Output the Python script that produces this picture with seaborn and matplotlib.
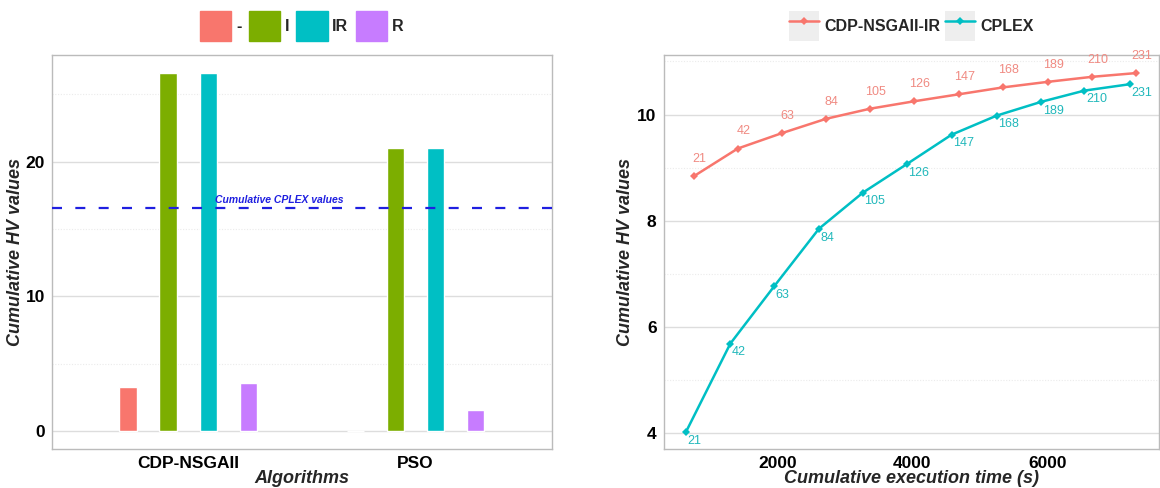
import numpy as np
import pandas as pd
import matplotlib
matplotlib.use("Agg")
import matplotlib.pyplot as plt
import matplotlib.patches as mpatches
from matplotlib.lines import Line2D
from matplotlib.legend_handler import HandlerTuple
import seaborn as sns

# ---- data ----
algorithms = ["CDP-NSGAII", "PSO"]
groups = ["-", "I", "IR", "R"]
bar_values = {
    "CDP-NSGAII": [3.29, 26.55, 26.55, 3.58],
    "PSO": [0.05, 21.04, 21.0, 1.6],
}
cplex_ref = 16.55

iterations = [21, 42, 63, 84, 105, 126, 147, 168, 189, 210, 231]
nsga_time = [760, 1410, 2065, 2721, 3374, 4030, 4685, 5340, 6006, 6668, 7319]
nsga_hv = [8.84, 9.36, 9.65, 9.92, 10.11, 10.25, 10.38, 10.51, 10.615, 10.71, 10.78]
cplex_time = [643, 1300, 1951, 2613, 3265, 3920, 4580, 5250, 5912, 6550, 7221]
cplex_hv = [4.03, 5.69, 6.77, 7.85, 8.53, 9.07, 9.62, 9.98, 10.24, 10.45, 10.57]

bar_colors = ["#F8766D", "#7CAE00", "#00BFC4", "#C77CFF"]
line_colors = {"CDP-NSGAII-IR": "#F8766D", "CPLEX": "#00BFC4"}

sns.set_style("white")
plt.rcParams["font.family"] = ["Liberation Sans", "DejaVu Sans"]

rows = []
for alg in algorithms:
    for g, v in zip(groups, bar_values[alg]):
        rows.append({"alg": alg, "group": g, "value": v})
df_bar = pd.DataFrame(rows)

df_line = pd.concat([
    pd.DataFrame({"time": nsga_time, "hv": nsga_hv, "it": iterations, "algo": "CDP-NSGAII-IR"}),
    pd.DataFrame({"time": cplex_time, "hv": cplex_hv, "it": iterations, "algo": "CPLEX"}),
])

fig = plt.figure(figsize=(11.6, 4.88), dpi=100)
ax1 = fig.add_axes([0.0446, 0.0793, 0.431, 0.808])
ax2 = fig.add_axes([0.572, 0.0793, 0.427, 0.808])


def style_panel(ax):
    for s in ax.spines.values():
        s.set_color("#BBBBBB")
        s.set_linewidth(1.0)
    ax.set_facecolor("white")
    ax.tick_params(axis="both", length=3, color="#999999", width=0.8, labelsize=12.5,
                   pad=2)
    for lab in ax.get_xticklabels() + ax.get_yticklabels():
        lab.set_fontweight("bold")
        lab.set_color("black")


# ---- left: bars ----
sns.barplot(data=df_bar, x="alg", y="value", hue="group", order=algorithms,
            hue_order=groups, palette=bar_colors, width=0.705, gap=0.57,
            saturation=1, ax=ax1, legend=False)
ax1.set_xlim(-0.6, 1.6)
ax1.set_ylim(-1.33, 27.9)
ax1.set_yticks([0, 10, 20])
ax1.set_yticks([5, 15, 25], minor=True)
ax1.grid(axis="y", which="major", color="#DDDDDD", lw=1.0)
ax1.grid(axis="y", which="minor", color="#EBEBEB", lw=0.8, ls=(0, (1, 1.5)))
ax1.set_axisbelow(True)
ax1.tick_params(axis="y", which="minor", length=0)
ax1.axhline(cplex_ref, color="#1F1FE0", lw=1.6, ls=(0, (4.5, 6)), zorder=3)
ax1.text(0.4, cplex_ref + 0.2, "Cumulative CPLEX values", color="#1F1FE0",
         fontsize=7.5, fontweight="bold", fontstyle="italic", ha="center", va="bottom")
ax1.set_xlabel("Algorithms", fontsize=13, fontweight="bold", fontstyle="italic", labelpad=-1)
ax1.set_ylabel("Cumulative HV values", fontsize=13, fontweight="bold", fontstyle="italic",
               labelpad=1)
style_panel(ax1)
handles = [mpatches.Patch(color=c) for c in bar_colors]
ax1.legend(handles, groups, loc="lower center", bbox_to_anchor=(0.5, 1.0), ncol=4,
           frameon=False, handlelength=1.95, handleheight=2.5, handletextpad=0.3,
           columnspacing=0.45, prop={"weight": "bold", "size": 11.5})

# ---- right: lines ----
sns.lineplot(data=df_line, x="time", y="hv", hue="algo", palette=line_colors,
             marker="D", markersize=4, markeredgewidth=0, lw=1.8, sort=False,
             ax=ax2, legend=False)
ax2.set_xlim(309, 7653)
ax2.set_ylim(3.70, 11.12)
ax2.set_xticks([2000, 4000, 6000])
ax2.set_yticks([4, 6, 8, 10])
ax2.set_yticks([5, 7, 9, 11], minor=True)
ax2.grid(axis="y", which="major", color="#DDDDDD", lw=1.0)
ax2.grid(axis="y", which="minor", color="#EBEBEB", lw=0.8, ls=(0, (1, 1.5)))
ax2.set_axisbelow(True)
ax2.tick_params(axis="y", which="minor", length=0)

for t, h, it in zip(nsga_time, nsga_hv, iterations):
    ax2.annotate(str(it), (t, h), xytext=(4, 8), textcoords="offset points",
                 ha="center", va="bottom", fontsize=9, color="#F08A82")
for t, h, it in zip(cplex_time, cplex_hv, iterations):
    ax2.annotate(str(it), (t, h), xytext=(1, -2), textcoords="offset points",
                 ha="left", va="top", fontsize=9, color="#21B8BB")

ax2.set_xlabel("Cumulative execution time (s)", fontsize=13, fontweight="bold",
               fontstyle="italic", labelpad=-1)
ax2.set_ylabel("Cumulative HV values", fontsize=13, fontweight="bold", fontstyle="italic",
               labelpad=2)
style_panel(ax2)
line_handles = [
    (mpatches.Patch(facecolor="#EEEEEE", edgecolor="none"),
     Line2D([], [], color=c, lw=1.8, marker="D", markersize=4, markeredgewidth=0))
    for c in line_colors.values()
]
ax2.legend(line_handles, list(line_colors.keys()), loc="lower center",
           bbox_to_anchor=(0.5, 1.0), ncol=2, frameon=False, handlelength=1.9,
           handleheight=2.5, handletextpad=0.3, columnspacing=0.3,
           handler_map={tuple: HandlerTuple(ndivide=1)},
           prop={"weight": "bold", "size": 11.5})

fig.savefig("out.png", dpi=100)
